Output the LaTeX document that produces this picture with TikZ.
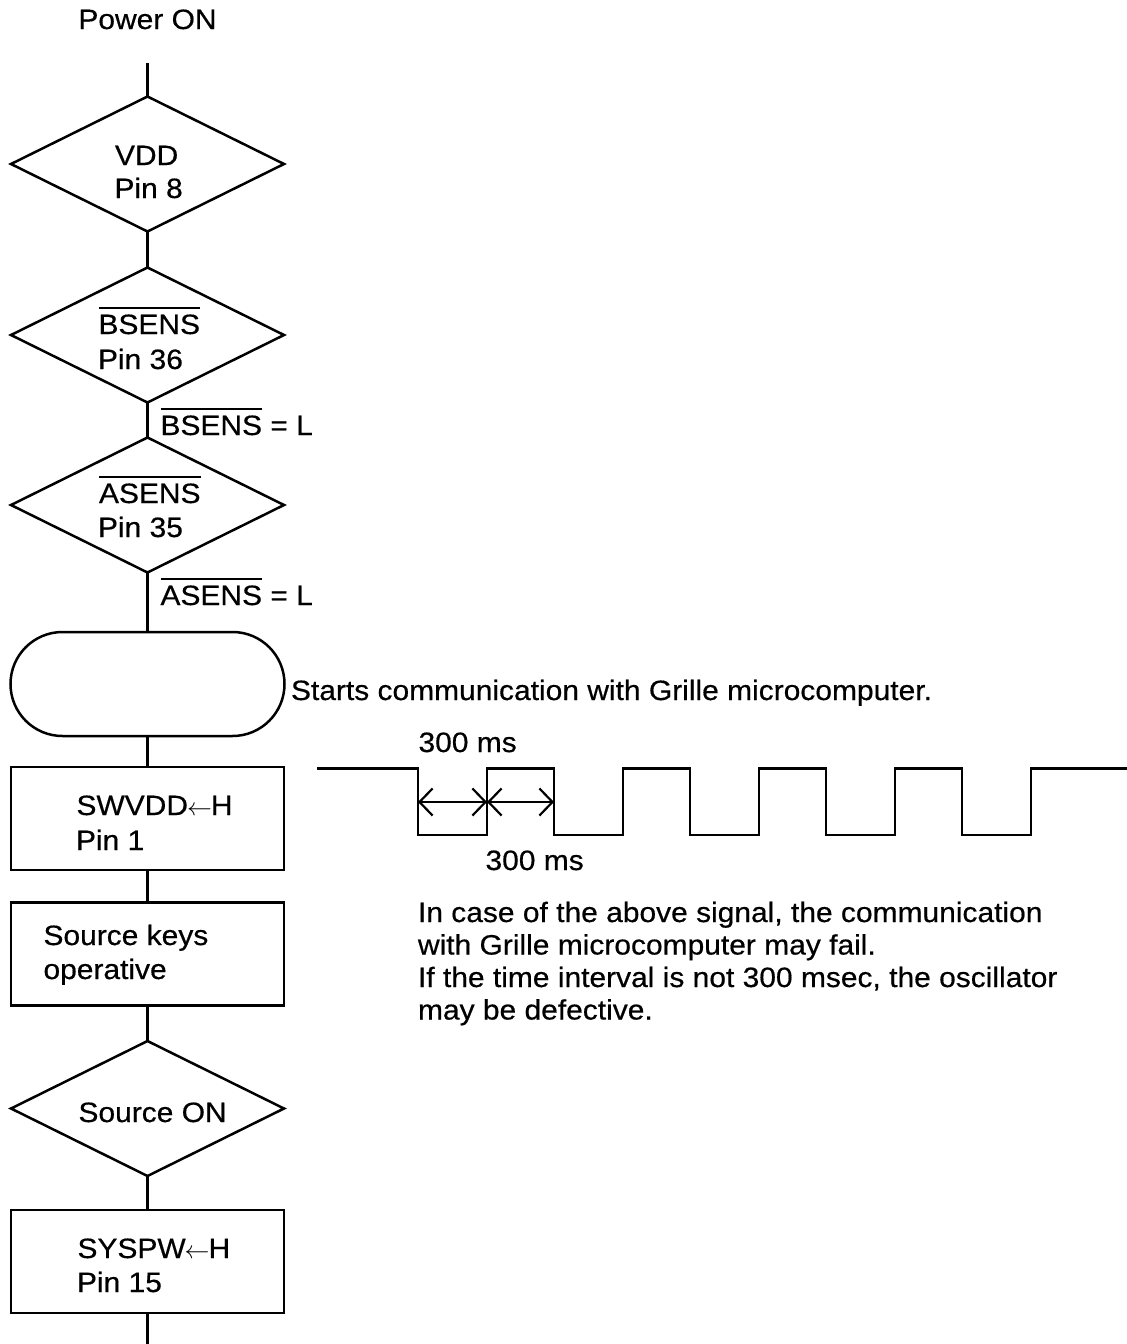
\documentclass[tikz,border=0pt]{standalone}
\usepackage{fontspec}
\setmainfont{Liberation Sans}[FakeStretch=1.07,FakeBold=0.5]
\usetikzlibrary{shapes.geometric,arrows.meta}
\newcommand\dfont{\fontsize{28}{33}\selectfont}
\newsavebox\ovlbox
\newcommand\ovl[1]{\sbox\ovlbox{#1}\rlap{\rule[25pt]{\wd\ovlbox}{1.6pt}}\usebox\ovlbox}
\newcommand\larr{\kern-1pt\ensuremath{\leftarrow}\kern-1pt}
\tikzset{
  every picture/.style={line width=2.5pt},
  dec/.style={draw, diamond, minimum width=273pt, minimum height=135pt, inner sep=0pt, outer sep=0pt},
  proc/.style={draw, rectangle, minimum width=273pt, minimum height=103pt, inner sep=0pt, outer sep=0pt},
  term/.style={draw, rectangle, rounded corners=52pt, minimum width=274pt, minimum height=104pt, inner sep=0pt, outer sep=0pt},
  txt/.style={anchor=base west, inner sep=0pt, outer sep=0pt, font=\dfont},
  ctxt/.style={anchor=base, inner sep=0pt, outer sep=0pt, font=\dfont},
  flow/.style={line width=2.5pt},
  wave/.style={line width=2.5pt, line join=miter},
  dim/.style={line width=2.2pt, {Straight Barb[length=13pt,width=27pt]}-{Straight Barb[length=13pt,width=27pt]}}
}
\begin{document}
\begin{tikzpicture}[x=1pt,y=-1pt]
\useasboundingbox (0,0) rectangle (1127,1344);
% shapes
\node[dec]  (d1) at (147.5,164) {};
\node[dec]  (d2) at (147.5,335) {};
\node[dec]  (d3) at (147.5,505) {};
\node[term] (t1) at (147.5,684) {};
\node[proc] (b1) at (147.5,818.5) {};
\node[proc] (b2) at (147.5,954) {};
\node[dec]  (d4) at (147.5,1108.5) {};
\node[proc] (b3) at (147.5,1261.5) {};
\coordinate (start) at (147.5,63);
\coordinate (finish) at (147.5,1344);
% connectors
\draw[flow] (start) -- (d1.north);
\draw[flow] (d1.south) -- (d2.north);
\draw[flow] (d2.south) -- (d3.north);
\draw[flow] (d3.south) -- (t1.north);
\draw[flow] (t1.south) -- (b1.north);
\draw[flow] (b1.south) -- (b2.north);
\draw[flow] (b2.south) -- (d4.north);
\draw[flow] (d4.south) -- (b3.north);
\draw[flow] (b3.south) -- (finish);
% texts
\node[ctxt] (pon) at (147.5,29) {Power ON};
\node[txt] (d1a) at (115,165) {VDD};
\node[txt] (d1b) at (114.5,198) {Pin 8};
\node[txt] (d2a) at (98.5,334) {\ovl{BSENS}};
\node[txt] (d2b) at (98,369) {Pin 36};
\node[txt] (d3a) at (99,503) {\ovl{ASENS}};
\node[txt] (d3b) at (98,537) {Pin 35};
\node[txt] (l1) at (160.5,435) {\ovl{BSENS} = L};
\node[txt] (l2) at (160.5,605) {\ovl{ASENS} = L};
\node[txt] (tc) at (291,700) {Starts communication with Grille microcomputer.};
\node[txt] (b1a) at (76.5,815) {SWVDD\larr H};
\node[txt] (b1b) at (76,850) {Pin 1};
\node[txt] (b2a) at (43.5,945) {Source keys};
\node[txt] (b2b) at (43.5,979) {operative};
\node[txt] (d4a) at (78.5,1122) {Source ON};
\node[txt] (b3a) at (77.5,1258) {SYSPW\larr H};
\node[txt] (b3b) at (77,1292) {Pin 15};
\node[txt] (ms1) at (418.5,752) {300 ms};
\node[txt] (ms2) at (485.5,870) {300 ms};
\node[txt] (p1) at (418,922) {In case of the above signal, the communication};
\node[txt] (p2) at (418,954.5) {with Grille microcomputer may fail.};
\node[txt] (p3) at (418,987) {If the time interval is not 300 msec, the oscillator};
\node[txt] (p4) at (418,1019.5) {may be defective.};
% waveform
\draw[wave] (317,768.5) -- (418,768.5) -- (418,835)
  -- (487,835) -- (487,768.5) -- (554,768.5) -- (554,835)
  -- (623,835) -- (623,768.5) -- (690,768.5) -- (690,835)
  -- (759,835) -- (759,768.5) -- (826,768.5) -- (826,835)
  -- (895,835) -- (895,768.5) -- (962,768.5) -- (962,835)
  -- (1031,835) -- (1031,768.5) -- (1127,768.5);
\coordinate (m0) at (418,802);
\coordinate (m1) at (487,802);
\coordinate (m2) at (554,802);
\draw[dim] (m0) -- (m1);
\draw[dim] (m1) -- (m2);
\end{tikzpicture}
\end{document}
